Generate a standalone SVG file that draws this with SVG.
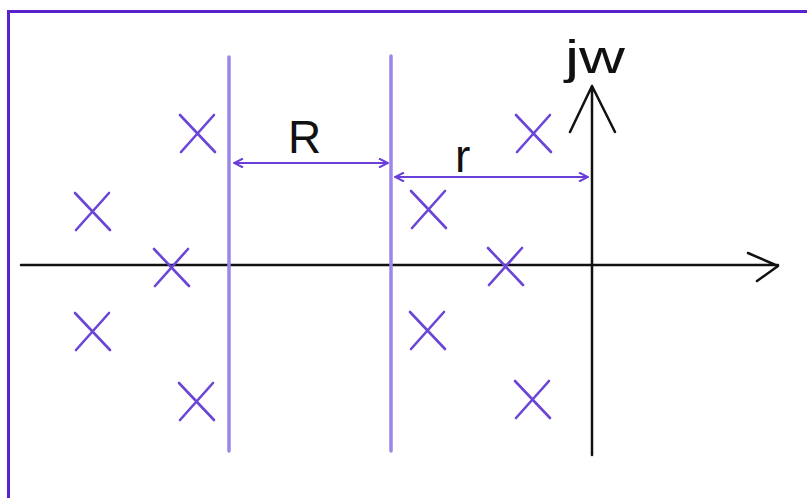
<svg xmlns="http://www.w3.org/2000/svg" width="807" height="498" viewBox="0 0 807 498">
<style>
.frame{fill:none;stroke:#5a22cc;stroke-width:3}
.axis{fill:none;stroke:#111;stroke-width:2.5;stroke-linecap:round;stroke-linejoin:round}
.bound{stroke:#9c86ea;stroke-width:3.5;stroke-linecap:round}
.dim{fill:none;stroke:#6a3ed8;stroke-width:2.2;stroke-linecap:round;stroke-linejoin:round}
.pole{fill:none;stroke:#6a45d6;stroke-width:2.6;stroke-linecap:round}
.lbl{font-family:"Liberation Sans",Arial,sans-serif;font-size:46px;fill:#111}
</style>
<defs>
<marker id="dh" viewBox="0 0 10 10" refX="10" refY="5" markerWidth="10" markerHeight="10" markerUnits="userSpaceOnUse" orient="auto-start-reverse">
<path d="M1,0.5 L10,5 L1,9.5" fill="none" stroke="#6a3ed8" stroke-width="2"/>
</marker>
<path id="x" d="M-17,-18 L18,19 M17,-18 L-16,19"/>
</defs>
<rect x="0" y="0" width="807" height="498" fill="#ffffff"/>
<path class="frame" d="M8.5,498 V11.5 H807"/>
<g id="connectors">
<path id="real-axis" class="axis" d="M21,265 H778 M748,253 L778,266 L757,281"/>
<path id="imag-axis" class="axis" d="M592,455 V86 M570,132 L592,86 L615,132"/>
<line id="R-dim" class="dim" x1="234" y1="163" x2="388" y2="163" marker-start="url(#dh)" marker-end="url(#dh)"/>
<line id="r-dim" class="dim" x1="395" y1="177" x2="588" y2="177" marker-start="url(#dh)" marker-end="url(#dh)"/>
</g>
<g id="boundaries">
<line id="bound-left" class="bound" x1="229" y1="57" x2="229" y2="451"/>
<line id="bound-right" class="bound" x1="391" y1="56" x2="391" y2="451"/>
</g>
<g id="poles">
<use href="#x" class="pole" x="197" y="133"/>
<use href="#x" class="pole" x="92" y="211"/>
<use href="#x" class="pole" x="171" y="267"/>
<use href="#x" class="pole" x="92" y="331"/>
<use href="#x" class="pole" x="196" y="401"/>
<use href="#x" class="pole" x="428" y="209"/>
<use href="#x" class="pole" x="505" y="266"/>
<use href="#x" class="pole" x="427" y="330"/>
<use href="#x" class="pole" x="532" y="399"/>
<use href="#x" class="pole" x="533" y="133"/>
</g>
<g id="labels">
<text id="label-jw" class="lbl" x="565" y="73" font-size="51" textLength="60" lengthAdjust="spacingAndGlyphs">jw</text>
<text id="label-R" class="lbl" x="288" y="153">R</text>
<text id="label-r" class="lbl" x="455" y="172">r</text>
</g>
</svg>
